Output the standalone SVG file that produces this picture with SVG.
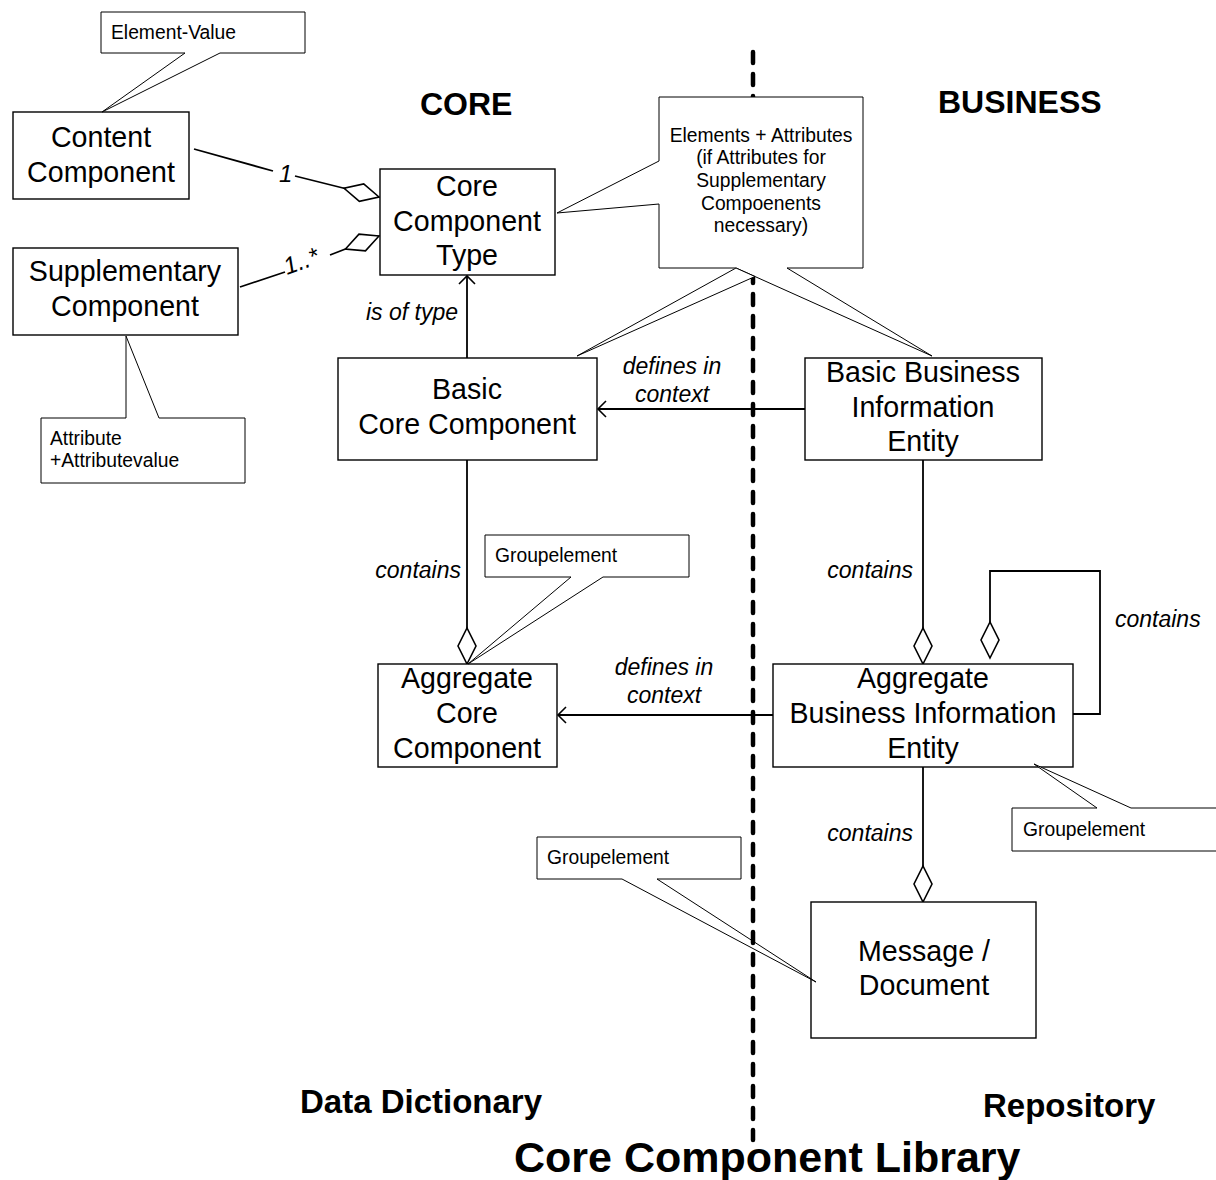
<svg xmlns="http://www.w3.org/2000/svg" width="1216" height="1180" viewBox="0 0 1216 1180">
<style>
text{font-family:"Liberation Sans",Arial,sans-serif;fill:#000}
.node{fill:#fff;stroke:#000;stroke-width:1.4}
.nt{font-size:28.6px;text-anchor:middle}
.note{fill:#fff;stroke:#000;stroke-width:1}
.st{font-size:19.3px}
.lbl{font-size:23px;font-style:italic}
.conn{fill:none;stroke:#000;stroke-width:1.8}
.head{font-size:32px;font-weight:bold}
.foot{font-size:33px;font-weight:bold}
</style>
<defs>
<marker id="arrow" markerUnits="userSpaceOnUse" markerWidth="20" markerHeight="20" viewBox="-10 -10 20 20" refX="0" refY="0" orient="auto" overflow="visible">
<path d="M-8,-8 L0,0 L-8,8" fill="none" stroke="#000" stroke-width="1.6"/>
</marker>
<marker id="diamond" markerUnits="userSpaceOnUse" markerWidth="40" markerHeight="22" viewBox="-38 -11 40 22" refX="0" refY="0" orient="auto" overflow="visible">
<path d="M0,0 L-18,-9 L-36,0 L-18,9 Z" fill="#fff" stroke="#000" stroke-width="1.6"/>
</marker>
</defs>
<rect width="1216" height="1180" fill="#fff"/>

<g id="headings">
<text class="head" x="420" y="115">CORE</text>
<text class="head" x="938" y="113">BUSINESS</text>
<text class="foot" x="300" y="1113">Data Dictionary</text>
<text class="foot" x="983" y="1117">Repository</text>
<text x="514" y="1172" style="font-size:43px;font-weight:bold">Core Component Library</text>
</g>

<g id="connectors">
<path class="conn" d="M194,149 L273,171"/>
<path class="conn" d="M295,176 L379,197" marker-end="url(#diamond)"/>
<text class="lbl" x="279" y="182" style="font-size:24px">1</text>
<path class="conn" d="M240,287 L285,272"/>
<path class="conn" d="M330,255 L379,236" marker-end="url(#diamond)"/>
<text class="lbl" transform="translate(287,275) rotate(-20)" style="font-size:24px">1..*</text>
<path class="conn" d="M467,358 V276" marker-end="url(#arrow)"/>
<text class="lbl" x="366" y="320">is of type</text>
<path class="conn" d="M805,409 H598" marker-end="url(#arrow)"/>
<text class="lbl" x="672" y="374" text-anchor="middle">defines in</text>
<text class="lbl" x="672" y="402" text-anchor="middle">context</text>
<path class="conn" d="M467,460 V664" marker-end="url(#diamond)"/>
<text class="lbl" x="461" y="578" text-anchor="end">contains</text>
<path class="conn" d="M773,715 H558" marker-end="url(#arrow)"/>
<text class="lbl" x="664" y="675" text-anchor="middle">defines in</text>
<text class="lbl" x="664" y="703" text-anchor="middle">context</text>
<path class="conn" d="M923,460 V664" marker-end="url(#diamond)"/>
<text class="lbl" x="913" y="578" text-anchor="end">contains</text>
<path class="conn" d="M1073,714 H1100 V571 H990 V658" marker-end="url(#diamond)"/>
<text class="lbl" x="1115" y="627">contains</text>
<path class="conn" d="M923,767 V902" marker-end="url(#diamond)"/>
<text class="lbl" x="913" y="841" text-anchor="end">contains</text>
</g>

<g id="content-component">
<rect class="node" x="13" y="112" width="176" height="87"/>
<text class="nt" x="101" y="147">Content</text>
<text class="nt" x="101" y="182">Component</text>
</g>
<g id="supplementary-component">
<rect class="node" x="13" y="248" width="225" height="87"/>
<text class="nt" x="125" y="281">Supplementary</text>
<text class="nt" x="125" y="316">Component</text>
</g>
<g id="core-component-type">
<rect class="node" x="380" y="169" width="175" height="106"/>
<text class="nt" x="467" y="196">Core</text>
<text class="nt" x="467" y="231">Component</text>
<text class="nt" x="467" y="265">Type</text>
</g>
<g id="basic-core-component">
<rect class="node" x="338" y="358" width="259" height="102"/>
<text class="nt" x="467" y="399">Basic</text>
<text class="nt" x="467" y="434">Core Component</text>
</g>
<g id="bbie">
<rect class="node" x="805" y="358" width="237" height="102"/>
<text class="nt" x="923" y="382">Basic Business</text>
<text class="nt" x="923" y="417">Information</text>
<text class="nt" x="923" y="451">Entity</text>
</g>
<g id="acc">
<rect class="node" x="378" y="664" width="179" height="103"/>
<text class="nt" x="467" y="688">Aggregate</text>
<text class="nt" x="467" y="723">Core</text>
<text class="nt" x="467" y="758">Component</text>
</g>
<g id="abie">
<rect class="node" x="773" y="664" width="300" height="103"/>
<text class="nt" x="923" y="688">Aggregate</text>
<text class="nt" x="923" y="723">Business Information</text>
<text class="nt" x="923" y="758">Entity</text>
</g>
<g id="message-document">
<rect class="node" x="811" y="902" width="225" height="136"/>
<text class="nt" x="924" y="961">Message /</text>
<text class="nt" x="924" y="995">Document</text>
</g>

<g id="note-element-value">
<path class="note" d="M101,12 H305 V53 H220 L102,112 L185,53 H101 Z"/>
<text class="st" x="111" y="39">Element-Value</text>
</g>
<g id="note-attribute">
<path class="note" d="M41,418 H126 V336 L159,418 H245 V483 H41 Z"/>
<text class="st" x="50" y="445">Attribute</text>
<text class="st" x="50" y="467">+Attributevalue</text>
</g>
<g id="note-groupelement-acc">
<path class="note" d="M485,535 H689 V577 H603 L468,664 L571,577 H485 Z"/>
<text class="st" x="495" y="562">Groupelement</text>
</g>
<g id="note-groupelement-abie">
<path class="note" d="M1012,808 H1097 L1034,764 L1131,808 H1222 V851 H1012 Z"/>
<text class="st" x="1023" y="836">Groupelement</text>
</g>
<g id="note-groupelement-message">
<path class="note" d="M537,837 H741 V879 H657 L816,982 L622,879 H537 Z"/>
<text class="st" x="547" y="864">Groupelement</text>
</g>

<g id="divider">
<line x1="753" y1="52" x2="753" y2="1140" stroke="#000" stroke-width="4.5" stroke-dasharray="11 11" stroke-linecap="round"/>
</g>

<g id="note-elements-attributes">
<path class="note" d="M659,97 H863 V268 H787 L932,356 L736,268 H659 V204 L557,213 L659,161 Z"/>
<path class="note" d="M736,268 L577,356 L755,276.5 Z"/>
<text class="st" x="761" y="142" text-anchor="middle">Elements + Attributes</text>
<text class="st" x="761" y="164" text-anchor="middle">(if Attributes for</text>
<text class="st" x="761" y="187" text-anchor="middle">Supplementary</text>
<text class="st" x="761" y="210" text-anchor="middle">Compoenents</text>
<text class="st" x="761" y="232" text-anchor="middle">necessary)</text>
</g>
</svg>
